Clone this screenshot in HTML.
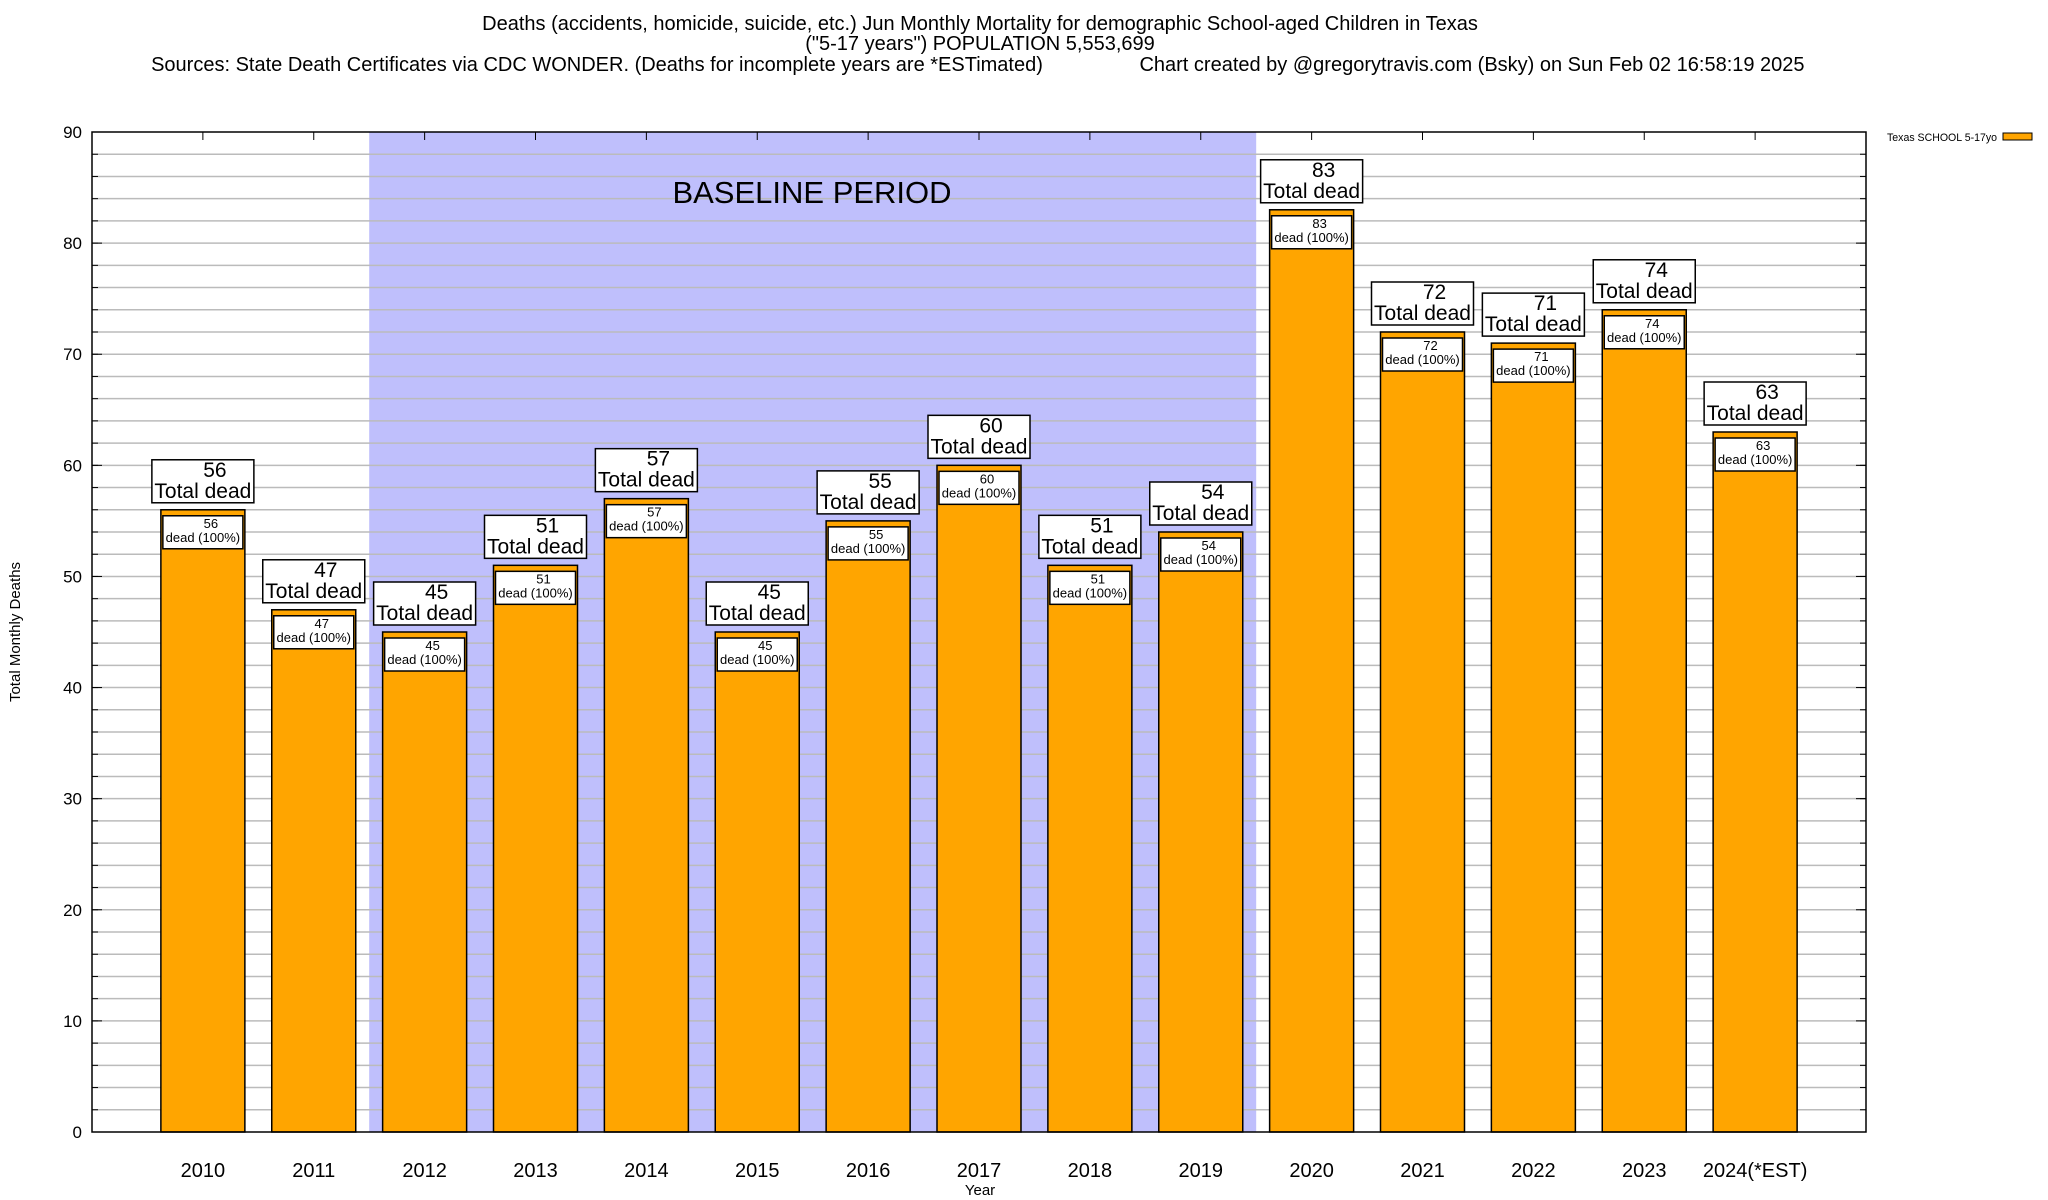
<!DOCTYPE html>
<html><head><meta charset="utf-8">
<style>
html,body{margin:0;padding:0;background:#fff;}
svg{display:block;font-family:"Liberation Sans",Arial,sans-serif;}
</style></head>
<body>
<svg id="chart" width="2048" height="1200" viewBox="0 0 2048 1200" xmlns="http://www.w3.org/2000/svg">
<g font-size="20" text-anchor="middle" fill="#000">
<text x="980" y="30">Deaths (accidents, homicide, suicide, etc.) Jun Monthly Mortality for demographic School-aged Children in Texas</text>
<text x="980" y="50">("5-17 years") POPULATION 5,553,699</text>
<text x="597" y="71">Sources: State Death Certificates via CDC WONDER. (Deaths for incomplete years are *ESTimated)</text>
<text x="1472" y="71">Chart created by @gregorytravis.com (Bsky) on Sun Feb 02 16:58:19 2025</text>
</g>
<g id="plot"></g>
</svg>
<script>
const categories = ["2010","2011","2012","2013","2014","2015","2016","2017","2018","2019","2020","2021","2022","2023","2024(*EST)"];
const deaths = [56,47,45,51,57,45,55,60,51,54,83,72,71,74,63];
const yTicks = [0,10,20,30,40,50,60,70,80,90];
const baselineStart = 2, baselineEnd = 9;

const NS = "http://www.w3.org/2000/svg";
const L = 92, R = 1866, T = 132, B = 1132, yMax = 90;
const slot = (R - L) / (categories.length + 1);
const barW = 84;
const xC = i => L + slot * (i + 1);
const yS = v => B - (v / yMax) * (B - T);
const g = document.getElementById('plot');
function el(tag, attrs, parent, text) {
  const e = document.createElementNS(NS, tag);
  for (const k in attrs) e.setAttribute(k, attrs[k]);
  if (text !== undefined) e.textContent = text;
  (parent || g).appendChild(e);
  return e;
}

const shade = el('rect', {x: xC(baselineStart) - slot/2, y: T, width: slot*(baselineEnd-baselineStart+1), height: B-T, fill: '#bfbffc'});



for (let v = 2; v < yMax; v += 2) {
  const gl = el('line', {x1: L, x2: R, y1: yS(v), y2: yS(v), stroke: '#bbbbbb', 'stroke-width': 1.5});
  
  
  el('line', {x1: L, x2: L+6, y1: yS(v), y2: yS(v), stroke: '#000', 'stroke-width': 1});
  el('line', {x1: R, x2: R-6, y1: yS(v), y2: yS(v), stroke: '#000', 'stroke-width': 1});
}

const bl = el('text', {x: 812, y: 203, 'font-size': 31, 'text-anchor': 'middle'}, g, 'BASELINE PERIOD');



yTicks.forEach(v => {
  const t = el('text', {x: 82, y: yS(v) + 6, 'font-size': 17, 'text-anchor': 'end'}, g, String(v));
  
  
  el('line', {x1: L, x2: L+10, y1: yS(v), y2: yS(v), stroke: '#000', 'stroke-width': 1});
  el('line', {x1: R, x2: R-10, y1: yS(v), y2: yS(v), stroke: '#000', 'stroke-width': 1});
});

categories.forEach((c, i) => {
  const v = deaths[i];
  const cx = xC(i), top = yS(v);
  const grp = el('g', {});
  
  
  el('rect', {x: cx - barW/2, y: top, width: barW, height: B - top, fill: '#ffa500', stroke: '#000', 'stroke-width': 1.5}, grp);
  el('rect', {x: cx - barW/2 + 2, y: top + 6, width: barW - 4, height: 33, fill: '#fff', stroke: '#000', 'stroke-width': 1.5}, grp);
  el('text', {x: cx + 8, y: top + 18, 'font-size': 13, 'text-anchor': 'middle'}, grp, String(v));
  el('text', {x: cx, y: top + 32, 'font-size': 13, 'text-anchor': 'middle'}, grp, 'dead (100%)');
  const lb = el('g', {}, grp);
  
  
  el('rect', {x: cx - 51, y: top - 50, width: 102, height: 43, fill: '#fff', stroke: '#000', 'stroke-width': 1.5}, lb);
  el('text', {x: cx + 12, y: top - 33, 'font-size': 21, 'text-anchor': 'middle'}, lb, String(v));
  el('text', {x: cx, y: top - 12, 'font-size': 21, 'text-anchor': 'middle'}, lb, 'Total dead');
  const xl = el('text', {x: cx, y: 1177, 'font-size': 20, 'text-anchor': 'middle'}, g, c);
  
  
  el('line', {x1: cx, x2: cx, y1: T, y2: T+8, stroke: '#000', 'stroke-width': 1});
});

const fr = el('rect', {x: L, y: T, width: R-L, height: B-T, fill: 'none', stroke: '#000', 'stroke-width': 1.5});



const yt = el('text', {x: 0, y: 0, 'font-size': 15, 'text-anchor': 'middle', transform: 'translate(20,632) rotate(-90)'}, g, 'Total Monthly Deaths');


const xt = el('text', {x: 980, y: 1195, 'font-size': 15, 'text-anchor': 'middle'}, g, 'Year');



const lg = el('g', {});


el('text', {x: 1887, y: 141, 'font-size': 11, textLength: 110, lengthAdjust: 'spacingAndGlyphs'}, lg, 'Texas SCHOOL 5-17yo');
el('rect', {x: 2003, y: 133, width: 29, height: 7, fill: '#ffa500', stroke: '#000', 'stroke-width': 1}, lg);
</script>
</body></html>
